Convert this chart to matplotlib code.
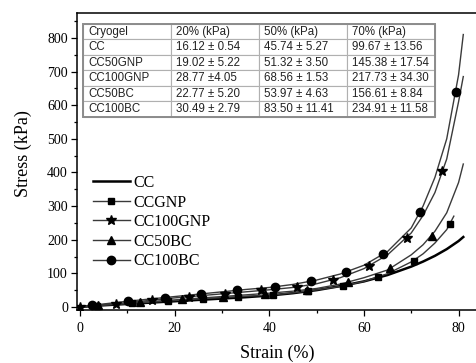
import matplotlib
matplotlib.use("Agg")
import matplotlib.pyplot as plt
from matplotlib.patches import Rectangle
from matplotlib.lines import Line2D

# ---- curve data ----
curve_strain = [0, 5, 10, 15, 20, 25, 30, 35, 40, 45, 50, 55, 60, 65, 70, 72.5, 75, 77.5, 80, 81]
cc_curve = [0, 5, 9, 13, 17, 21, 25, 29, 34, 41, 50, 62, 76, 95, 120, 135, 152, 172, 196, 208]
ccgnp_strain = [0, 5, 10, 15, 20, 25, 30, 35, 40, 45, 50, 55, 60, 65, 70, 72.5, 75, 77.5, 79]
ccgnp_curve = [0, 5.5, 10, 14.5, 19, 24, 28, 32, 35, 42, 51, 61, 76, 99, 134, 158, 190, 230, 270]
cc100gnp_curve = [0, 7, 13, 20, 27, 33, 39, 45, 51, 58, 69, 87, 114, 155, 220, 272, 340, 440, 610, 685]
cc50bc_curve = [0, 6, 11, 16, 21, 26, 31, 36, 41, 47, 55, 68, 87, 110, 155, 185, 225, 280, 370, 425]
cc100bc_curve = [0, 9, 17, 24, 31, 38, 45, 52, 58, 67, 80, 98, 124, 165, 235, 300, 385, 500, 690, 810]

# ---- marker data ----
ccgnp_mx = [3.6, 11, 18.5, 26, 33.4, 40.8, 48.2, 55.6, 63, 70.5, 78.1]
ccgnp_my = [4, 11, 18, 25, 31, 36, 47, 63, 89, 138, 248]
cc100gnp_mx = [0, 7.6, 15.3, 23, 30.6, 38.3, 45.9, 53.5, 61.1, 69, 76.6]
cc100gnp_my = [0, 10, 20, 30, 40, 49, 60, 81, 123, 206, 404]
cc50bc_mx = [3.9, 12.7, 21.5, 30.3, 39.1, 47.9, 56.7, 65.6, 74.3]
cc50bc_my = [5, 14, 23, 31, 40, 51, 74, 115, 212]
cc100bc_mx = [2.6, 10.2, 17.9, 25.5, 33.2, 41.2, 48.8, 56.3, 64.1, 71.8, 79.4]
cc100bc_my = [5, 17, 28, 39, 49, 60, 77, 104, 158, 282, 640]

series_names = ["CC", "CCGNP", "CC100GNP", "CC50BC", "CC100BC"]

# ---- table data ----
table_header = ["Cryogel", "20% (kPa)", "50% (kPa)", "70% (kPa)"]
table_names = ["CC", "CC50GNP", "CC100GNP", "CC50BC", "CC100BC"]
table_20 = ["16.12 ± 0.54", "19.02 ± 5.22", "28.77 ±4.05", "22.77 ± 5.20", "30.49 ± 2.79"]
table_50 = ["45.74 ± 5.27", "51.32 ± 3.50", "68.56 ± 1.53", "53.97 ± 4.63", "83.50 ± 11.41"]
table_70 = ["99.67 ± 13.56", "145.38 ± 17.54", "217.73 ± 34.30", "156.61 ± 8.84", "234.91 ± 11.58"]

serif = ["Liberation Serif", "DejaVu Serif"]
sans = ["Liberation Sans", "DejaVu Sans"]

fig = plt.figure(figsize=(4.77, 3.63), dpi=100)
ax = fig.add_axes([77/477, 1 - 310/363, 1 - 77/477 + 0.003, (310 - 13)/363])

gray = "#3a3a3a"
ms_sq, ms_st, ms_tr, ms_ci = 5.0, 7.0, 6.0, 6.0
ax.plot(curve_strain, cc_curve, color="black", lw=1.8)
ax.plot(ccgnp_strain, ccgnp_curve, color=gray, lw=1.0)
ax.plot(curve_strain, cc100gnp_curve, color=gray, lw=1.0)
ax.plot(curve_strain, cc50bc_curve, color=gray, lw=1.0)
ax.plot(curve_strain, cc100bc_curve, color=gray, lw=1.0)
ax.plot(ccgnp_mx, ccgnp_my, ls="none", marker="s", ms=ms_sq, color="black")
ax.plot(cc100gnp_mx, cc100gnp_my, ls="none", marker="*", ms=ms_st, color="black")
ax.plot(cc50bc_mx, cc50bc_my, ls="none", marker="^", ms=ms_tr, color="black")
ax.plot(cc100bc_mx, cc100bc_my, ls="none", marker="o", ms=ms_ci, color="black")

handles = [
    Line2D([], [], color="black", lw=1.8),
    Line2D([], [], color=gray, lw=1.0, marker="s", ms=ms_sq, mfc="black", mec="black"),
    Line2D([], [], color=gray, lw=1.0, marker="*", ms=ms_st, mfc="black", mec="black"),
    Line2D([], [], color=gray, lw=1.0, marker="^", ms=ms_tr, mfc="black", mec="black"),
    Line2D([], [], color=gray, lw=1.0, marker="o", ms=ms_ci, mfc="black", mec="black"),
]
ax.legend(handles, series_names, loc="center left", bbox_to_anchor=(0.04, 0.296),
          frameon=False, borderpad=0, borderaxespad=0, handlelength=2.3,
          handletextpad=0.2, labelspacing=0.22, numpoints=1,
          prop={"family": serif, "size": 11.5})

ax.set_xlim(-0.64, 84.2)
ax.set_ylim(-9, 874)
ax.set_xticks([0, 20, 40, 60, 80])
ax.set_xticks([10, 30, 50, 70], minor=True)
ax.set_yticks(range(0, 801, 100))
ax.set_yticks(range(50, 851, 100), minor=True)
ax.tick_params(which="major", direction="out", length=4.5, width=0.9, pad=2)
ax.tick_params(which="minor", direction="out", length=2.5, width=0.9)
ax.tick_params(axis="x", which="major", pad=4)
for lab in ax.get_xticklabels() + ax.get_yticklabels():
    lab.set_family(serif)
    lab.set_fontsize(10)
ax.spines["right"].set_visible(False)
for s in ["left", "bottom", "top"]:
    ax.spines[s].set_linewidth(1.1)

ax.set_xlabel("Strain (%)", family=serif, fontsize=13)
ax.set_ylabel("Stress (kPa)", family=serif, fontsize=13)
ax.xaxis.set_label_coords(0.5, -0.118)
ax.yaxis.set_label_coords(-0.1125, 0.527)

# table
cell_text = [[n, a, b, c] for n, a, b, c in zip(table_names, table_20, table_50, table_70)]
bbox = [6/400, (310 - 117)/297, (434 - 83)/400, (117 - 24)/297]
tbl = ax.table(cellText=[table_header] + cell_text, cellLoc="left", bbox=bbox)
tbl.auto_set_font_size(False)
for (r, c), cell in tbl.get_celld().items():
    cell.set_edgecolor("#b0b0b0")
    cell.set_linewidth(0.8)
    cell.PAD = 0.06
    cell.get_text().set_fontsize(8.3)
    cell.get_text().set_family(sans)
    cell.get_text().set_color("#222222")
ax.add_patch(Rectangle((bbox[0], bbox[1]), bbox[2], bbox[3], transform=ax.transAxes,
                       fill=False, edgecolor="#8c8c8c", lw=1.4, zorder=5))

fig.savefig("out.png", dpi=100)
